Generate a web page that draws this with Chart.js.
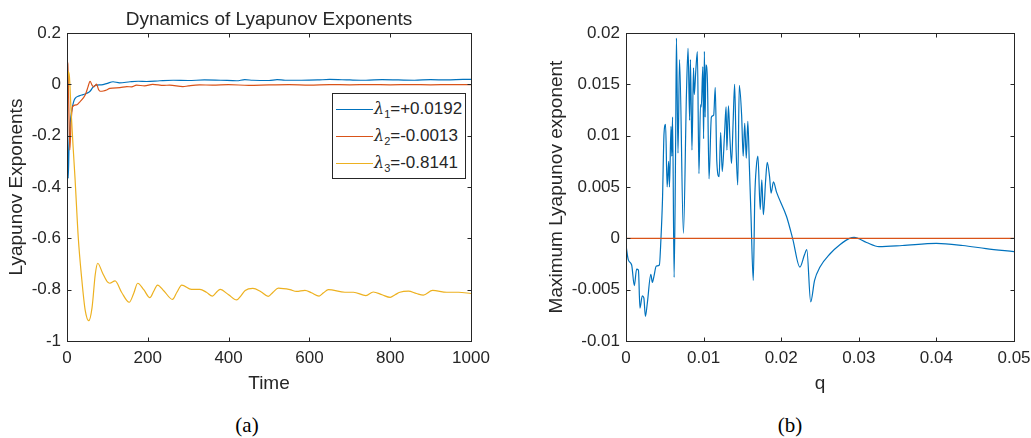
<!DOCTYPE html>
<html>
<head>
<meta charset="utf-8">
<script src="https://cdn.jsdelivr.net/npm/chart.js@4.4.1/dist/chart.umd.min.js"></script>
<style>
  body { margin: 0; background: #fff; width: 1031px; height: 438px; position: relative; overflow: hidden; font-family: "Liberation Sans", Arial, sans-serif; }
  .wrap { position: absolute; top: 0; }
  #legendA { position: absolute; left: 332px; top: 93px; width: 132px; height: 84px; border: 1px solid #262626; background: #fff; }
  .item { position: absolute; left: 0; height: 20px; font-size: 17px; color: #262626; }
  .item span.sw { position: absolute; left: 3px; top: 10px; width: 37px; height: 0; border-top: 1.2px solid; }
  .item span.tx { position: absolute; left: 41px; top: 0; white-space: nowrap; line-height: 20px; }
  .item i { font-family: "DejaVu Serif", serif; font-size: 16px; }
  .item sub { font-size: 11px; vertical-align: -4px; }
  .cap { position: absolute; top: 413px; font-family: "Liberation Serif", "Times New Roman", serif; font-size: 21px; color: #000; transform: translateX(-50%); }
</style>
</head>
<body>
<div class="wrap" style="left:0"><canvas id="chartA" width="520" height="400"></canvas></div>
<div class="wrap" style="left:520px"><canvas id="chartB" width="511" height="400"></canvas></div>
<div id="legendA"></div>
<div class="cap" style="left:247px">(a)</div>
<div class="cap" style="left:790px">(b)</div>
<script>
const blue = '#0072BD';
const red = '#D95319';
const yellow = '#EDB120';
const ink = '#262626';

// (a) Lyapunov exponents vs time
const t1 = [0, 1, 3, 5, 8, 12, 16, 20, 30, 40, 49, 57, 65, 73, 85, 100, 114, 130, 156, 176, 197, 230, 263, 300, 340, 380, 420, 440, 460, 500, 520, 540, 580, 620, 650, 700, 740, 780, 820, 860, 900, 940, 980, 1000];
const lambda1 = [0.0, -0.15, -0.366, -0.25, -0.15, -0.1, -0.07, -0.055, -0.045, -0.04, -0.035, -0.027, -0.01, -0.003, -0.002, 0.004, 0.01, 0.006, 0.01, 0.012, 0.011, 0.014, 0.016, 0.015, 0.017, 0.016, 0.014, 0.018, 0.016, 0.015, 0.018, 0.016, 0.016, 0.017, 0.019, 0.017, 0.016, 0.018, 0.017, 0.016, 0.018, 0.017, 0.019, 0.0192];

const t2 = [0, 2, 4, 7, 10, 14, 24, 32, 45, 52, 57, 62, 66, 70, 73, 78, 82, 90, 98, 106, 131, 148, 160, 172, 192, 212, 240, 254, 287, 300, 328, 360, 400, 450, 500, 550, 600, 650, 700, 750, 800, 850, 900, 950, 1000];
const lambda2 = [0.09, 0.08, -0.05, -0.256, -0.15, -0.087, -0.08, -0.068, -0.042, -0.01, 0.012, -0.003, -0.01, -0.004, 0.001, -0.02, -0.027, -0.026, -0.022, -0.016, -0.013, -0.009, -0.01, -0.003, -0.006, 0.0, -0.004, -0.003, -0.009, -0.006, -0.002, -0.003, -0.001, -0.004, -0.002, -0.001, -0.003, -0.001, -0.002, -0.001, -0.002, -0.001, -0.002, -0.001, -0.0013];

const t3 = [0, 3, 6, 10, 15, 20, 28, 36, 45, 54, 62, 70, 76, 88, 100, 106, 119, 135, 154, 165, 175, 190, 205, 215, 224, 240, 261, 272, 284, 308, 329, 345, 360, 370, 379, 400, 420, 430, 441, 460, 480, 498, 510, 523, 552, 568, 589, 605, 624, 635, 647, 688, 709, 740, 758, 780, 800, 812, 824, 845, 865, 882, 905, 940, 969, 1000];
const lambda3 = [-0.1, 0.05, 0.03, -0.1, -0.24, -0.37, -0.6, -0.75, -0.88, -0.921, -0.87, -0.74, -0.697, -0.735, -0.77, -0.775, -0.766, -0.81, -0.849, -0.815, -0.775, -0.8, -0.831, -0.805, -0.782, -0.805, -0.838, -0.81, -0.782, -0.799, -0.799, -0.81, -0.825, -0.81, -0.799, -0.82, -0.84, -0.825, -0.803, -0.795, -0.808, -0.826, -0.81, -0.794, -0.8, -0.807, -0.803, -0.812, -0.825, -0.812, -0.8, -0.81, -0.81, -0.823, -0.809, -0.82, -0.83, -0.82, -0.81, -0.806, -0.815, -0.821, -0.803, -0.81, -0.81, -0.815];

const seriesNames = ['=+0.0192', '=-0.0013', '=-0.8141'];

// (b) maximum Lyapunov exponent vs q
const q = [0, 0.0003, 0.00073, 0.00107, 0.00137, 0.0016, 0.0018, 0.0021, 0.0023, 0.0025, 0.00275, 0.0032, 0.0034, 0.0036, 0.0039, 0.0043, 0.0045, 0.0047, 0.0049, 0.0051, 0.0053, 0.0055, 0.0056, 0.0058, 0.0059, 0.006, 0.0062, 0.0064, 0.0065, 0.0067, 0.0069, 0.0074, 0.0078, 0.008, 0.0082, 0.0083, 0.0085, 0.0087, 0.0088, 0.009, 0.0092, 0.0094, 0.0096, 0.0097, 0.0099, 0.01, 0.0101, 0.0102, 0.0103, 0.0105, 0.0107, 0.011, 0.0113, 0.0115, 0.0117, 0.012, 0.0122, 0.0124, 0.0127, 0.0129, 0.013, 0.0132, 0.0134, 0.0136, 0.0138, 0.014, 0.0142, 0.0144, 0.0146, 0.0149, 0.0151, 0.0153, 0.0155, 0.0157, 0.0159, 0.0161, 0.0164, 0.0166, 0.0168, 0.017, 0.0173, 0.0175, 0.0177, 0.018, 0.0182, 0.0185, 0.0187, 0.019, 0.0194, 0.0207, 0.0215, 0.0224, 0.023, 0.0233, 0.0238, 0.0243, 0.025, 0.0263, 0.0276, 0.0288, 0.0294, 0.031, 0.0326, 0.0356, 0.04, 0.0434, 0.0464, 0.05];
const lmax = [-0.00065, -0.0021, -0.0026, -0.0046, -0.003, -0.0031, -0.0068, -0.0056, -0.0058, -0.0076, -0.0063, -0.0035, -0.0043, -0.0037, -0.0027, -0.0026, -0.0001, 0.0037, 0.0102, 0.0111, 0.005, 0.0075, 0.005, 0.0109, 0.008, 0.0118, -0.0038, 0.0096, 0.0195, 0.0083, 0.0174, 0.0005, 0.0144, 0.0185, 0.0115, 0.0174, 0.0086, 0.0166, 0.014, 0.0164, 0.0182, 0.0063, 0.013, 0.0128, 0.0167, 0.0097, 0.0182, 0.0118, 0.0169, 0.0151, 0.0058, 0.0118, 0.012, 0.0147, 0.0075, 0.006, 0.0103, 0.0065, 0.0102, 0.0128, 0.0086, 0.0129, 0.0096, 0.0073, 0.0112, 0.015, 0.0084, 0.0052, 0.0149, 0.012, 0.008, 0.0112, 0.0078, 0.0114, 0.007, 0.0024, -0.0041, 0.0041, 0.007, 0.008, 0.0028, 0.0057, 0.0023, 0.0057, 0.0074, 0.006, 0.0044, 0.0055, 0.0045, 0.0021, -0.0001, -0.0028, -0.0016, -0.0011, -0.0062, -0.0041, -0.0028, -0.0015, -0.0006, 0.0, 0.0001, -0.0004, -0.0008, -0.0007, -0.0005, -0.0007, -0.001, -0.0013];
const zeroQ = [0, 0.05];
const zeroLine = [0, 0];

const pts = (xs, ys) => xs.map((x, i) => ({ x: x, y: ys[i] }));
const fontTick = { family: 'Liberation Sans', size: 17 };
const fontLabel = { family: 'Liberation Sans', size: 19 };

// MATLAB style box with inward ticks
const boxPlugin = {
  id: 'box',
  afterDraw(chart) {
    const { ctx, chartArea: a, scales } = chart;
    const L = Math.round(a.left) + 0.5, R = Math.round(a.right) + 0.5;
    const T = Math.round(a.top) + 0.5, B = Math.round(a.bottom) + 0.5;
    ctx.save();
    ctx.strokeStyle = ink;
    ctx.lineWidth = 1;
    ctx.strokeRect(L, T, R - L, B - T);
    ctx.beginPath();
    scales.x.ticks.forEach(tk => {
      const x = Math.round(scales.x.getPixelForValue(tk.value)) + 0.5;
      ctx.moveTo(x, B); ctx.lineTo(x, B - 4);
      ctx.moveTo(x, T); ctx.lineTo(x, T + 4);
    });
    scales.y.ticks.forEach(tk => {
      const y = Math.round(scales.y.getPixelForValue(tk.value)) + 0.5;
      ctx.moveTo(L, y); ctx.lineTo(L + 4, y);
      ctx.moveTo(R, y); ctx.lineTo(R - 4, y);
    });
    ctx.stroke();
    ctx.restore();
  }
};

function lineSet(data, color, order) {
  return {
    data: data, borderColor: color, borderWidth: 1.2, pointRadius: 0,
    fill: false, cubicInterpolationMode: 'monotone', order: order
  };
}

function axis(min, max, step, fitFn, fmt, title, titlePad, tickPad) {
  return {
    type: 'linear', min: min, max: max, afterFit: fitFn,
    grid: { display: false, drawTicks: false },
    border: { display: false },
    ticks: { stepSize: step, padding: tickPad, color: ink, font: fontTick, maxRotation: 0, autoSkip: false,
             callback: v => String(+v.toFixed(fmt)) },
    title: { display: true, text: title, color: ink, font: fontLabel, padding: titlePad }
  };
}

// fixed axis boxes so the plot areas land where the reference has them
const fitX = s => { s.height = 59; s.paddingLeft = 0; s.paddingRight = 0; };
const fitY = w => s => { s.width = w; s.paddingTop = 0; s.paddingBottom = 0; };

new Chart(document.getElementById('chartA'), {
  type: 'line',
  data: {
    datasets: [
      lineSet(pts(t1, lambda1), blue, 3),
      lineSet(pts(t2, lambda2), red, 2),
      lineSet(pts(t3, lambda3), yellow, 1)
    ]
  },
  options: {
    responsive: false, animation: false, devicePixelRatio: 1,
    layout: { padding: { left: 0, right: 49, top: 0, bottom: 0 } },
    plugins: {
      legend: { display: false },
      tooltip: { enabled: false },
      title: { display: true, fullSize: false, text: 'Dynamics of Lyapunov Exponents', color: ink,
               font: { family: 'Liberation Sans', size: 19, weight: 'normal' }, padding: { top: 8, bottom: 2.2 } }
    },
    scales: {
      x: axis(0, 1000, 200, fitX, 0, 'Time', { top: 0, bottom: 5 }, 7),
      y: axis(-1, 0.2, 0.2, fitY(67), 2, 'Lyapunov Exponents', { top: 5.6, bottom: 0 }, 6)
    }
  },
  plugins: [boxPlugin]
});

new Chart(document.getElementById('chartB'), {
  type: 'line',
  data: {
    datasets: [
      lineSet(pts(zeroQ, zeroLine), red, 1),
      lineSet(pts(q, lmax), blue, 2)
    ]
  },
  options: {
    responsive: false, animation: false, devicePixelRatio: 1,
    layout: { padding: { left: 0, right: 17, top: 33, bottom: 0 } },
    plugins: { legend: { display: false }, tooltip: { enabled: false } },
    scales: {
      x: axis(0, 0.05, 0.01, fitX, 2, 'q', { top: 0, bottom: 5 }, 7),
      y: axis(-0.01, 0.02, 0.005, fitY(106), 3, 'Maximum Lyapunov exponent', { top: 25.6, bottom: 0 }, 6)
    }
  },
  plugins: [boxPlugin]
});

// legend for (a)
const legend = document.getElementById('legendA');
[blue, red, yellow].forEach((c, i) => {
  const row = document.createElement('div');
  row.className = 'item';
  row.style.top = (5 + i * 27) + 'px';
  row.innerHTML = '<span class="sw" style="border-color:' + c + '"></span><span class="tx"><i>λ</i><sub>' + (i + 1) + '</sub>' + seriesNames[i] + '</span>';
  legend.appendChild(row);
});
</script>
</body>
</html>
